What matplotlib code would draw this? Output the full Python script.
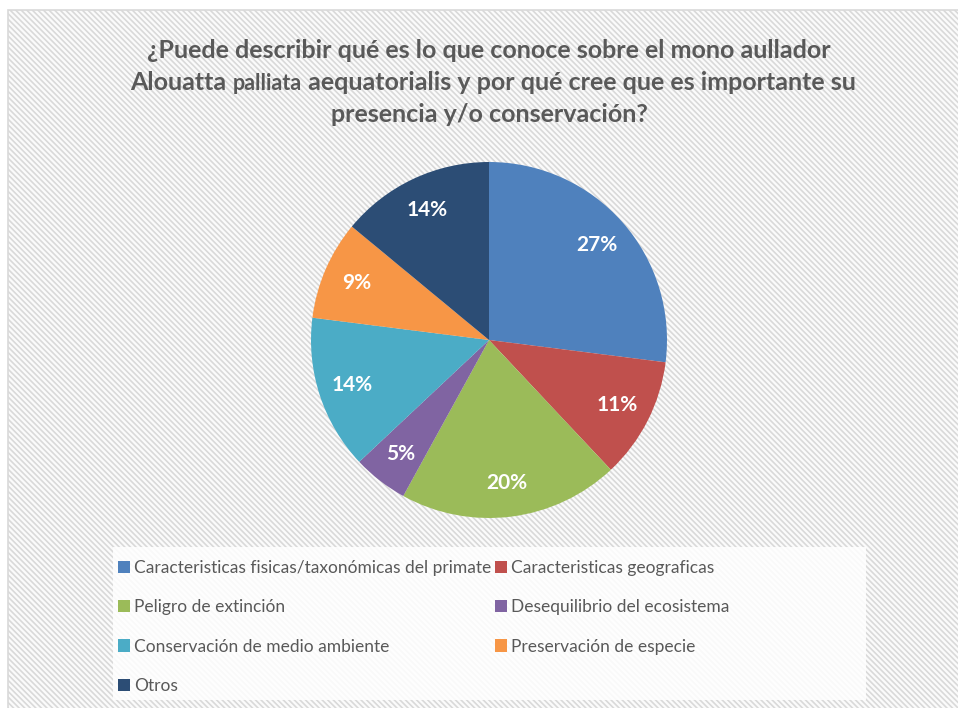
import matplotlib
matplotlib.use("Agg")
import matplotlib.pyplot as plt
from matplotlib.patches import Rectangle, Patch

# data
categorias = ["Caracteristicas fisicas/taxonómicas del primate",
              "Caracteristicas geograficas",
              "Peligro de extinción",
              "Desequilibrio del ecosistema",
              "Conservación de medio ambiente",
              "Preservación de especie",
              "Otros"]
porcentajes = [27, 11, 20, 5, 14, 9, 14]
colores = ["#4F81BD", "#C0504D", "#9BBB59", "#8064A2", "#4BACC6", "#F79646", "#2C4D75"]

FONT = "Lato"
GRIS = "#595959"
W, H = 958, 708

plt.rcParams["font.family"] = [FONT, "DejaVu Sans"]
plt.rcParams["hatch.linewidth"] = 1.2
plt.rcParams["hatch.color"] = "#f0f0f0"

fig = plt.figure(figsize=(W / 100, H / 100), dpi=100)
fig.patch.set_facecolor("white")

def fx(px):
    return px / W

def fy(py):
    return 1 - py / H

# chart area with diagonal stripes
bg = fig.add_axes([0, 0, 1, 1])
bg.set_xlim(0, W)
bg.set_ylim(H, 0)
bg.axis("off")
bg.add_patch(Rectangle((8, 10), W, H, facecolor="#fbfbfb", edgecolor="#d9d9d9",
                       lw=1.2, hatch="\\" * 6))

# legend box
bg.add_patch(Rectangle((113, 547), 753, 153, facecolor="white", edgecolor="none",
                       alpha=0.85, zorder=2))

# pie
cx, cy, r = 489, 340, 178
ax = fig.add_axes([fx(cx - r), fy(cy + r), 2 * r / W, 2 * r / H])
ax.pie(porcentajes, colors=colores, startangle=90, counterclock=False,
       autopct="%d%%", pctdistance=0.81,
       wedgeprops=dict(edgecolor="none"),
       textprops=dict(color="white", fontsize=15, fontweight="bold"))
ax.set_xlim(-1, 1)
ax.set_ylim(-1, 1)
ax.set_aspect("equal")

# title
tkw = dict(color=GRIS, fontweight="bold", fontsize=18)
fig.text(fx(489), fy(50), "¿Puede describir qué es lo que conoce sobre el mono aullador",
         ha="center", va="center", **tkw)
fig.text(fx(489), fy(115), "presencia y/o conservación?", ha="center", va="center", **tkw)

partes = [("Alouatta ", 18), ("palliata", 15.5),
          (" aequatorialis y por qué cree que es importante su", 18)]
trozos = []
for txt, fs in partes:
    t = fig.text(0, fy(90), txt, ha="left", va="baseline", color=GRIS,
                 fontweight="bold", fontsize=fs)
    trozos.append(t)
fig.canvas.draw()
ren = fig.canvas.get_renderer()
anchos = [t.get_window_extent(ren).width for t in trozos]
x0 = 493 - sum(anchos) / 2
for t, w in zip(trozos, anchos):
    t.set_x(fx(x0))
    x0 += w

# legend, two columns
handles = [Patch(facecolor=c, edgecolor="none") for c in colores]
lkw = dict(frameon=False, fontsize=12.5, labelcolor=GRIS, handlelength=0.7,
           handleheight=0.7, handletextpad=0.25, labelspacing=1.34,
           borderaxespad=0, borderpad=0, loc="upper left")
izq = [0, 2, 4, 6]
der = [1, 3, 5]
leg1 = fig.legend([handles[i] for i in izq], [categorias[i] for i in izq],
                  bbox_to_anchor=(fx(118), fy(560)), **lkw)
fig.legend([handles[i] for i in der], [categorias[i] for i in der],
           bbox_to_anchor=(fx(495), fy(560)), **lkw)

fig.savefig("out.png", dpi=100)
